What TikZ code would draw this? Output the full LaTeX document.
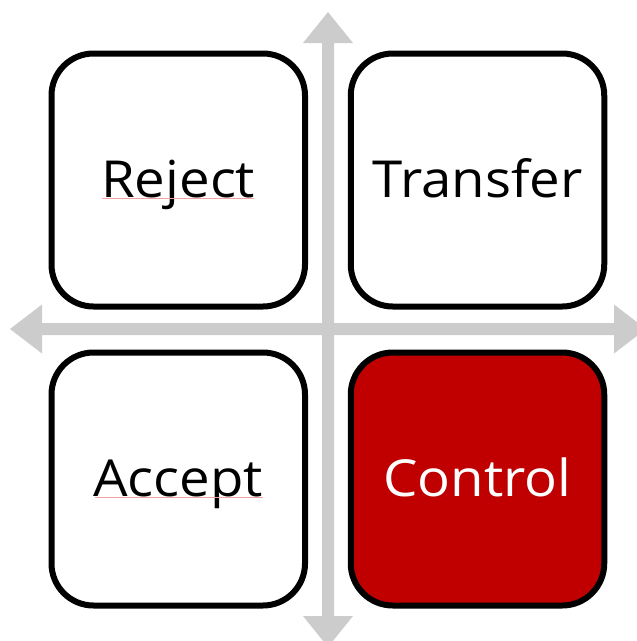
\documentclass[tikz,border=0pt]{standalone}
\usepackage{fontspec}
\setmainfont[FakeStretch=1.07]{Open Sans}
\definecolor{axisgray}{HTML}{CCCCCC}
\definecolor{ctrlred}{HTML}{C00000}
\definecolor{spellred}{HTML}{F4A0A0}
\begin{document}
\begin{tikzpicture}[x=1pt,y=-1pt,
  quad/.style={draw=black, line width=6pt, rounded corners=42pt,
    minimum width=253.5pt, minimum height=253pt, inner sep=0pt,
    text height=35pt, text depth=0pt,
    font=\fontsize{51}{60}\selectfont},
  axis/.style={fill=axisgray, draw=none},
  spell/.style={draw=spellred, line width=1pt}]
\useasboundingbox (0,0) rectangle (637,641);
\begin{scope}
\clip (0,0) rectangle (637,641);
% vertical axis
\coordinate (vtop) at (328,12);
\coordinate (vbot) at (328,647);
\fill[axis] (vtop) -- (353,43) -- (334,43) -- (334,616) -- (353,616) -- (vbot)
  -- (303,616) -- (322,616) -- (322,43) -- (303,43) -- cycle;
% horizontal axis
\coordinate (hleft) at (10,329);
\coordinate (hright) at (646,329);
\fill[axis] (hleft) -- (42,304.5) -- (42,323) -- (614,323) -- (614,304.5) -- (hright)
  -- (614,353.5) -- (614,335) -- (42,335) -- (42,353.5) -- cycle;
\end{scope}
\node[quad] (reject) at (178.25,180) {Reject};
\node[quad] (transfer) at (477.5,180) {Transfer};
\node[quad] (accept) at (178.25,479) {Accept};
\node[quad, fill=ctrlred, text=white] (control) at (477.5,479) {Control};
\draw[spell] ([xshift=-76pt,yshift=-18.5pt]reject.center) -- ([xshift=76pt,yshift=-18.5pt]reject.center);
\draw[spell] ([xshift=-83pt,yshift=-18.5pt]accept.center) -- ([xshift=85pt,yshift=-18.5pt]accept.center);
\end{tikzpicture}
\end{document}
